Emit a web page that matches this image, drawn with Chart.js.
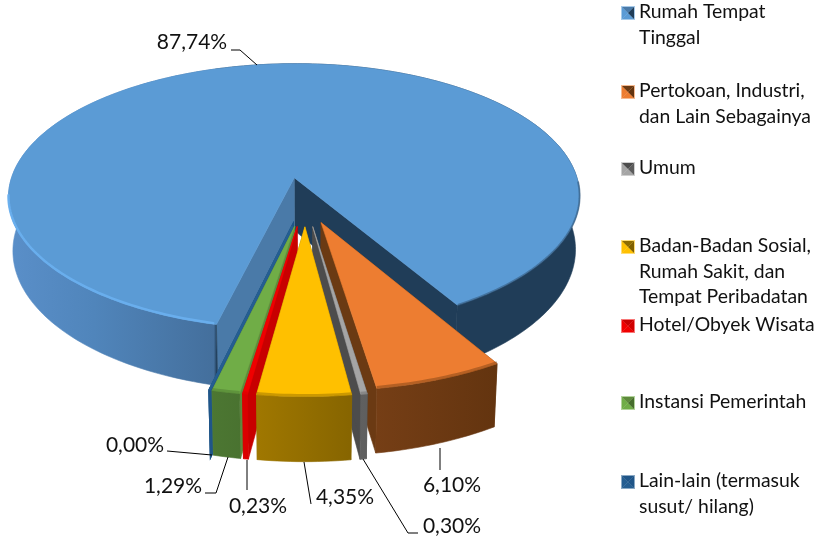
<!DOCTYPE html>
<html>
<head>
<meta charset="utf-8">
<style>
  html, body { margin: 0; padding: 0; background: #fff; }
  canvas { display: block; }
</style>
<script src="https://cdn.jsdelivr.net/npm/chart.js@4"></script>
</head>
<body>
<canvas id="pieChart" width="819" height="539"></canvas>
<script>
// Chart data
const categories = [
  ["Rumah Tempat", "Tinggal"],
  ["Pertokoan, Industri,", "dan Lain Sebagainya"],
  ["Umum"],
  ["Badan-Badan Sosial,", "Rumah Sakit, dan", "Tempat Peribadatan"],
  ["Hotel/Obyek Wisata"],
  ["Instansi Pemerintah"],
  ["Lain-lain (termasuk", "susut/ hilang)"],
];
const shares = [87.74, 6.1, 0.3, 4.35, 0.23, 1.29, 0.0];

// Slice colours
const topColors = ["#5b9bd5", "#ed7d31", "#a5a5a5", "#ffc000", "#f00000", "#70ad47", "#255e91"];
const wallColors = ["#4a7aa8", "#6b3a13", "#4c4c4c", "#8f6c00", "#c80000", "#5e8a3c", "#1f5588"];
const sideLeft = ["#5a8fc9", "#7c4218", "#666666", "#a67c00", "#e00000", "#4d7833", "#1f5588"];
const sideRight = ["#203d58", "#63340f", "#5c5c5c", "#806000", "#d00000", "#466d2d", "#1f5588"];

// Fake 3D camera
const view = { cx: 305, cy: 201.5, rx: 290, ry: 137, k: 0.145, depth: 54, shrink: 0.015 };
const explodes = [0, 0.16, 0.18, 0.18, 0.18, 0.18, 0.18];
const blueShift = { u: -0.038, v: -0.178 };
const drawOrder = [0, 1, 2, 6, 5, 4, 3];

// Label leader lines and positions
const labelPos = [[192, 42], [452, 485], [452, 526], [345, 497], [258, 506], [173, 486], [135, 445]];
const leaders = [
  [[231, 50], [240, 50], [257, 65]],
  [[440, 448], [440, 470]],
  [[363, 459], [408, 533], [418, 533]],
  [[304, 462], [311, 504]],
  [[247, 460], [247, 490]],
  [[228, 457], [216, 493], [205, 493]],
  [[212, 455], [167, 451]],
];
const legendX = 639;
const legendY = [12, 91, 168, 246, 325, 402, 481];
const legendLine = 25.5;

const project = (u, v, z) => {
  const w = 1 - view.k * v;
  return {
    x: view.cx + (view.rx * u / w) * (1 - view.shrink * z),
    y: view.cy + (view.ry * v + view.depth * z) / w,
  };
};

const tracePoints = (ctx, pts) => {
  ctx.beginPath();
  pts.forEach((p, i) => (i ? ctx.lineTo(p.x, p.y) : ctx.moveTo(p.x, p.y)));
  ctx.closePath();
};

const fillFace = (ctx, pts, color, edge) => {
  tracePoints(ctx, pts);
  ctx.fillStyle = color;
  ctx.fill();
  ctx.strokeStyle = color;
  ctx.lineWidth = edge === "thick" ? 2.6 : 0.6;
  ctx.stroke();
};

// Points along the rim between two angles, measured clockwise from the top
const rimPoints = (a, b, off, z) => {
  const steps = Math.max(2, Math.ceil(Math.abs(b - a) / 0.02));
  const pts = [];
  for (let i = 0; i <= steps; i++) {
    const t = a + ((b - a) * i) / steps;
    pts.push(project(off.u + Math.sin(t), off.v - Math.cos(t), z));
  }
  return pts;
};

const sideGradient = (ctx, i, a, b) => {
  if (i === 0) {
    const g = ctx.createLinearGradient(8, 0, 580, 0);
    g.addColorStop(0, "#5a8fc9");
    g.addColorStop(0.15, "#5085bb");
    g.addColorStop(0.36, "#446f9c");
    g.addColorStop(0.365, "#203d58");
    g.addColorStop(1, "#203d58");
    return g;
  }
  const left = rimPoints(a, b, { u: 0, v: 0 }, 0);
  const g = ctx.createLinearGradient(left[left.length - 1].x - 25, 0, left[0].x + 25, 0);
  g.addColorStop(0, sideLeft[i]);
  g.addColorStop(1, sideRight[i]);
  return g;
};

const strokeRim = (ctx, pts, lift) => {
  ctx.beginPath();
  pts.forEach((p, n) => (n ? ctx.lineTo(p.x, p.y - lift) : ctx.moveTo(p.x, p.y - lift)));
  ctx.stroke();
};

const drawSlice = (ctx, el, i) => {
  const a = el.startAngle + Math.PI / 2;
  const b = el.endAngle + Math.PI / 2;
  const mid = (a + b) / 2;
  const off = i === 0 ? blueShift : { u: Math.sin(mid) * explodes[i], v: -Math.cos(mid) * explodes[i] };
  const thin = b - a < 0.001;

  const tipTop = project(off.u, off.v, 0);
  const tipBot = project(off.u, off.v, 1);
  const rimTop = rimPoints(a, b, off, 0);
  const rimBot = rimPoints(a, b, off, 1);
  const lineEdge = thin ? "thick" : null;

  // radial walls
  const startWall = [tipTop, rimTop[0], rimBot[0], tipBot];
  const endWall = [tipTop, rimTop[rimTop.length - 1], rimBot[rimBot.length - 1], tipBot];
  fillFace(ctx, endWall, i === 0 ? "#203d58" : wallColors[i], lineEdge);
  fillFace(ctx, startWall, wallColors[i], lineEdge);

  // outer side
  fillFace(ctx, rimTop.concat(rimBot.slice().reverse()), sideGradient(ctx, i, a, b), lineEdge);

  // top face
  fillFace(ctx, [tipTop].concat(rimTop), topColors[i], lineEdge);

  // soft bevel on the rim
  ctx.save();
  if (i === 0) {
    const rad = (d) => (d * Math.PI) / 180;
    ctx.lineWidth = 2.5;
    ctx.lineCap = "round";
    ctx.strokeStyle = "rgba(106,176,240,0.9)";
    strokeRim(ctx, rimPoints(rad(194), rad(262), off, 0), 1);
    ctx.lineWidth = 2;
    ctx.strokeStyle = "rgba(50,85,120,0.55)";
    strokeRim(ctx, rimPoints(rad(92), rad(149), off, 0), 0);
  } else if (!thin) {
    ctx.lineWidth = 3;
    ctx.strokeStyle = sideRight[i] + "66";
    strokeRim(ctx, rimPoints(a, b, off, 0), 1);
  }
  ctx.restore();
};

const drawLegendMarker = (ctx, x, y, i) => {
  const s = 14;
  const half = s / 2;
  const x0 = x;
  const y0 = y - half;
  const cx = x0 + half;
  const cy = y0 + half;
  const tri = (p1, p2, color) => {
    ctx.beginPath();
    ctx.moveTo(p1[0], p1[1]);
    ctx.lineTo(p2[0], p2[1]);
    ctx.lineTo(cx, cy);
    ctx.closePath();
    ctx.fillStyle = color;
    ctx.fill();
  };
  ctx.fillStyle = topColors[i] + "88";
  ctx.fillRect(x0, y0, s, s);
  const nw = [x0 + 1, y0 + 1];
  const ne = [x0 + s - 1, y0 + 1];
  const sw = [x0 + 1, y0 + s - 1];
  const se = [x0 + s - 1, y0 + s - 1];
  tri(nw, sw, topColors[i]);
  tri(sw, se, topColors[i]);
  tri(nw, ne, wallColors[i]);
  tri(ne, se, sideRight[i]);
};

// Draws the tilted pie from the angles Chart.js worked out for each arc
const tiltedPie = {
  id: "tiltedPie",
  beforeDatasetDraw(chart) {
    const ctx = chart.ctx;
    const arcs = chart.getDatasetMeta(0).data;
    drawOrder.forEach((i) => drawSlice(ctx, arcs[i], i));
    return false;
  },
  afterDraw(chart) {
    const ctx = chart.ctx;
    ctx.save();

    // leader lines
    ctx.strokeStyle = "#000";
    ctx.lineWidth = 1;
    leaders.forEach((line) => {
      ctx.beginPath();
      line.forEach((p, n) => (n ? ctx.lineTo(p[0], p[1]) : ctx.moveTo(p[0], p[1])));
      ctx.stroke();
    });

    // value labels
    ctx.fillStyle = "#111";
    ctx.font = "21px Lato";
    ctx.textAlign = "center";
    ctx.textBaseline = "middle";
    shares.forEach((v, i) => {
      ctx.fillText(v.toFixed(2).replace(".", ",") + "%", labelPos[i][0], labelPos[i][1]);
    });

    // legend
    ctx.font = "19.4px Lato";
    ctx.textAlign = "left";
    categories.forEach((lines, i) => {
      drawLegendMarker(ctx, 621, legendY[i] + 1, i);
      ctx.fillStyle = "#111";
      lines.forEach((text, n) => ctx.fillText(text, legendX, legendY[i] + n * legendLine));
    });
    ctx.restore();
  },
};

document.addEventListener("DOMContentLoaded", () => {
  new Chart(document.getElementById("pieChart"), {
    type: "pie",
    data: {
      labels: categories.map((c) => c.join(" ")),
      datasets: [{ data: shares, backgroundColor: topColors, borderWidth: 0 }],
    },
    options: {
      responsive: false,
      animation: false,
      rotation: 193.43,
      plugins: { legend: { display: false }, tooltip: { enabled: false } },
    },
    plugins: [tiltedPie],
  });
});
</script>
</body>
</html>
